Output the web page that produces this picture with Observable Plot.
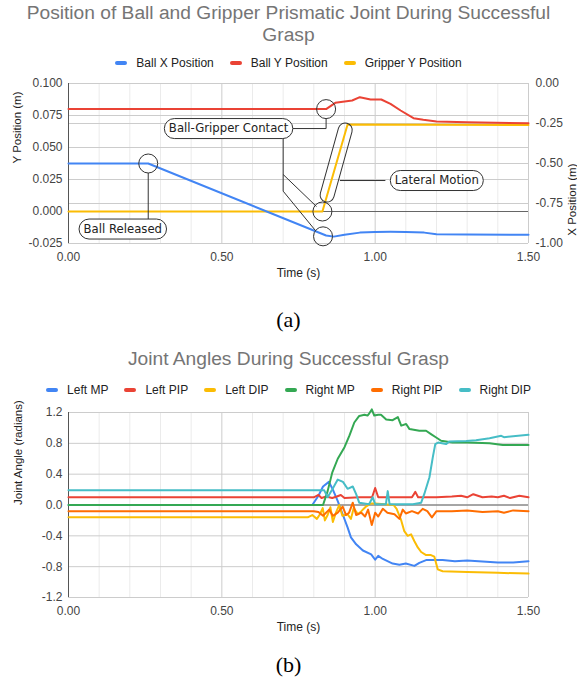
<!DOCTYPE html>
<html><head><meta charset="utf-8">
<script src="https://cdn.jsdelivr.net/npm/d3@7"></script>
<script src="https://cdn.jsdelivr.net/npm/@observablehq/plot@0.6"></script>
<style>
html,body{margin:0;padding:0;background:#fff;}
#root{position:relative;width:577px;height:685px;overflow:hidden;font-family:"Liberation Sans",Arial,sans-serif;}
.title{position:absolute;left:0;width:577px;text-align:center;color:#757575;font-size:19.2px;line-height:22px;}
.legend{position:absolute;left:0;width:577px;display:flex;justify-content:center;gap:16px;font-size:12px;line-height:16px;color:#222;}
.legend span.item{display:flex;align-items:center;}
.legend span.sw{display:inline-block;width:12px;height:4px;border-radius:2px;margin-right:9px;}
.caption{position:absolute;left:0;width:577px;text-align:center;font-family:"Liberation Serif","Times New Roman",serif;font-size:22px;line-height:26px;color:#000;}
.chart{position:absolute;left:0;}
</style></head>
<body><div id="root"></div>
<script>
// ---------- Chart (a) data ----------
const titleA = "Position of Ball and Gripper Prismatic Joint During Successful Grasp";
const seriesA = ["Ball X Position", "Ball Y Position", "Gripper Y Position"];
const colorsA = ["#4285F4", "#EA4335", "#FBBC04"];

// Ball X position (right axis, m)
const ballXTime = [0, 0.26, 0.84, 0.865, 0.9, 0.95, 1.0, 1.05, 1.1, 1.16, 1.2, 1.3, 1.5];
const ballXPos  = [-0.5, -0.5, -0.95, -0.957, -0.945, -0.932, -0.928, -0.927, -0.928, -0.932, -0.942, -0.944, -0.946];
// Ball Y position (left axis, m)
const ballYTime = [0, 0.84, 0.87, 0.925, 0.95, 0.985, 1.02, 1.05, 1.083, 1.125, 1.157, 1.2, 1.3, 1.5];
const ballYPos  = [0.080, 0.080, 0.0849, 0.0867, 0.0893, 0.0875, 0.0875, 0.0841, 0.0789, 0.0729, 0.0716, 0.0703, 0.0697, 0.069];
// Gripper Y position (left axis, m)
const gripTime = [0, 0.828, 0.91, 1.5];
const gripPos  = [0, 0, 0.068, 0.0675];

const leftTicksA  = [-0.025, 0, 0.025, 0.05, 0.075, 0.1];
const rightTicksA = [-1, -0.75, -0.5, -0.25, 0];
const timeTicks   = [0, 0.5, 1.0, 1.5];
const minorTime   = [0.1, 0.2, 0.3, 0.4, 0.6, 0.7, 0.8, 0.9, 1.1, 1.2, 1.3, 1.4];

// annotations (chart a, in time / Y-position units)
const circleT = [0.26, 0.84, 0.828, 0.83];
const circleV = [0.0375, 0.080, 0, -0.0194];
const labelText = ["Ball Released", "Ball-Gripper Contact", "Lateral Motion"];
const labelT = [0.177, 0.522, 1.201];
const labelV = [-0.0137, 0.0648, 0.0242];
const connT1 = [0.26, 0.7305, 0.84, 0.70, 0.70, 0.70, 1.0333];
const connV1 = [0.0301, 0.0648, 0.0648, 0.0570, 0.0289, 0.0159, 0.0242];
const connT2 = [0.26, 0.84, 0.84, 0.70, 0.8086, 0.805, 0.885];
const connV2 = [-0.0059, 0.0648, 0.0728, 0.0159, 0.0039, -0.0148, 0.0242];
const capsuleT = [0.845, 0.904];
const capsuleV = [0.0125, 0.0633];

// ---------- Chart (b) data ----------
const titleB = "Joint Angles During Successful Grasp";
const seriesB = ["Left MP", "Left PIP", "Left DIP", "Right MP", "Right PIP", "Right DIP"];
const colorsB = ["#4285F4", "#EA4335", "#FBBC04", "#34A853", "#FF6D01", "#46BDC6"];
const leftMPTime = [0, 0.795, 0.815, 0.83, 0.849, 0.862, 0.878, 0.894, 0.91, 0.921, 0.938, 0.96, 0.987, 1.0, 1.01, 1.025, 1.057, 1.079, 1.1, 1.128, 1.144, 1.166, 1.22, 1.26, 1.3, 1.4, 1.45, 1.5];
const leftMP     = [0, 0, 0.12, 0.24, 0.30, 0.2, 0.05, -0.12, -0.29, -0.42, -0.51, -0.59, -0.64, -0.71, -0.66, -0.70, -0.76, -0.775, -0.76, -0.79, -0.75, -0.715, -0.715, -0.73, -0.72, -0.745, -0.745, -0.73];
const leftPIPTime = [0, 0.8, 0.815, 0.825, 0.84, 0.86, 0.875, 0.888, 0.9, 0.95, 0.99, 1.0, 1.01, 1.05, 1.12, 1.131, 1.14, 1.2, 1.25, 1.28, 1.3, 1.32, 1.35, 1.38, 1.4, 1.42, 1.44, 1.47, 1.5];
const leftPIP     = [0.1, 0.1, 0.13, 0.09, 0.11, 0.09, 0.11, 0.13, 0.09, 0.1, 0.1, 0.22, 0.1, 0.1, 0.1, 0.17, 0.1, 0.1, 0.11, 0.12, 0.1, 0.14, 0.1, 0.11, 0.1, 0.12, 0.09, 0.12, 0.1];
const leftDIPTime = [0, 0.78, 0.795, 0.81, 0.82, 0.829, 0.836, 0.845, 0.854, 0.862, 0.872, 0.883, 0.893, 0.91, 0.921, 0.93, 0.944, 0.955, 0.97, 0.986, 1.0, 1.06, 1.07, 1.085, 1.095, 1.106, 1.117, 1.128, 1.139, 1.15, 1.166, 1.182, 1.193, 1.204, 1.22, 1.3, 1.4, 1.5];
const leftDIP     = [-0.16, -0.16, -0.13, -0.18, -0.12, -0.04, -0.2, -0.13, -0.03, -0.22, -0.1, 0.0, -0.14, -0.12, -0.18, -0.04, -0.12, -0.08, -0.02, 0.02, 0.02, 0.0, -0.05, -0.2, -0.34, -0.40, -0.38, -0.47, -0.55, -0.61, -0.65, -0.65, -0.67, -0.835, -0.86, -0.87, -0.88, -0.89];
const rightMPTime = [0, 0.83, 0.845, 0.86, 0.878, 0.9, 0.916, 0.932, 0.948, 0.965, 0.975, 0.981, 0.989, 0.997, 1.01, 1.019, 1.036, 1.057, 1.074, 1.085, 1.101, 1.112, 1.144, 1.166, 1.182, 1.199, 1.215, 1.253, 1.3, 1.373, 1.416, 1.5];
const rightMP     = [0, 0, 0.18, 0.42, 0.6, 0.75, 0.9, 1.07, 1.155, 1.17, 1.16, 1.19, 1.24, 1.16, 1.17, 1.17, 1.11, 1.10, 1.14, 1.03, 1.05, 0.985, 0.963, 0.963, 0.92, 0.876, 0.833, 0.81, 0.81, 0.80, 0.777, 0.777];
const rightPIPTime = [0, 0.8, 0.815, 0.83, 0.85, 0.862, 0.878, 0.894, 0.905, 0.915, 0.927, 0.938, 0.955, 0.967, 0.977, 0.989, 1.0, 1.01, 1.025, 1.04, 1.063, 1.079, 1.09, 1.1, 1.12, 1.14, 1.155, 1.17, 1.185, 1.2, 1.25, 1.3, 1.35, 1.4, 1.42, 1.45, 1.5];
const rightPIP     = [-0.08, -0.08, -0.09, -0.14, -0.06, -0.14, -0.1, -0.02, -0.13, -0.1, 0.03, -0.13, -0.1, -0.15, -0.06, -0.26, -0.1, -0.15, -0.05, -0.1, -0.12, -0.18, -0.06, -0.11, -0.08, -0.11, -0.05, -0.08, -0.16, -0.08, -0.08, -0.07, -0.09, -0.08, -0.1, -0.07, -0.08];
const rightDIPTime = [0, 0.834, 0.845, 0.86, 0.878, 0.895, 0.91, 0.927, 0.938, 0.948, 0.98, 0.992, 1.0, 1.035, 1.041, 1.047, 1.123, 1.15, 1.16, 1.177, 1.188, 1.196, 1.205, 1.231, 1.242, 1.297, 1.329, 1.373, 1.411, 1.42, 1.5];
const rightDIP     = [0.19, 0.19, 0.1, 0.2, 0.33, 0.3, 0.21, 0.24, 0.14, 0.03, 0.01, 0.1, 0.01, 0.01, 0.18, 0.01, 0.01, 0.03, 0.14, 0.36, 0.62, 0.79, 0.81, 0.79, 0.825, 0.83, 0.84, 0.867, 0.898, 0.88, 0.91];
const ticksB = [-1.2, -0.8, -0.4, 0, 0.4, 0.8, 1.2];

// ---------- helpers ----------
const zipRows = (ts, vs, s) => ts.map((t, i) => ({t, v: vs[i], s}));
const toLeft = r => 0.1 + 0.125 * r;           // right-axis (X position) -> left-axis units
const fromLeft = v => { const r = Math.round((v - 0.1) / 0.125 * 100) / 100; return (r === 0 ? 0 : r).toFixed(2); };
const root = document.getElementById("root");
function addDiv(cls, top, html) { const d = document.createElement("div"); d.className = cls; d.style.top = top + "px"; d.innerHTML = html; root.appendChild(d); return d; }
function addLegend(top, names, colors) {
  const d = addDiv("legend", top, "");
  names.forEach((n, i) => { const it = document.createElement("span"); it.className = "item";
    it.innerHTML = `<span class="sw" style="background:${colors[i]}"></span>${n}`; d.appendChild(it); });
}
const LABEL_FONT = 11.7, PAD = 4.5;
function pillLabels(index, scales, values, dimensions, context, next) {
  const g = next(index, scales, values, dimensions, context);
  const cv = document.createElement("canvas").getContext("2d");
  cv.font = `${LABEL_FONT}px "DejaVu Sans"`;
  const texts = Array.from(g.querySelectorAll("text"));
  texts.forEach((el, k) => {
    const i = index[k];
    const X = values.x[i], Y = values.y[i];
    const w = cv.measureText(el.textContent).width + 2 * PAD;
    const r = d3.create("svg:rect").attr("x", X - w / 2).attr("y", Y - 10).attr("width", w).attr("height", 20)
      .attr("rx", 10).attr("fill", "white").attr("stroke", "#333").attr("stroke-width", 1).node();
    el.parentNode.insertBefore(r, el);
  });
  return g;
}
function capsuleRender(index, scales, values) {
  const g = d3.create("svg:g"); const R = 7;
  for (const i of index) {
    const x1 = values.x1[i], y1 = values.y1[i], x2 = values.x2[i], y2 = values.y2[i];
    const L = Math.hypot(x2 - x1, y2 - y1), a = Math.atan2(y2 - y1, x2 - x1) * 180 / Math.PI;
    g.append("rect").attr("x", -R).attr("y", -R).attr("width", L + 2 * R).attr("height", 2 * R).attr("rx", R)
      .attr("transform", `translate(${x1},${y1}) rotate(${a})`).attr("fill", "none").attr("stroke", "#333").attr("stroke-width", 1);
  }
  return g.node();
}

// ---------- Chart (a) ----------
addDiv("title", 1.5, "Position of Ball and Gripper Prismatic Joint During Successful<br>Grasp");
addLegend(55, seriesA, colorsA);

const ballX = zipRows(ballXTime, ballXPos, seriesA[0]);
const ballY = zipRows(ballYTime, ballYPos, seriesA[1]);
const grip = zipRows(gripTime, gripPos, seriesA[2]);
const circles = circleT.map((t, i) => ({t, v: circleV[i]}));
const labels = labelText.map((s, i) => ({s, t: labelT[i], v: labelV[i]}));
const conns = connT1.map((t, i) => ({t1: t, v1: connV1[i], t2: connT2[i], v2: connV2[i]}));
const caps = [{t1: capsuleT[0], v1: capsuleV[0], t2: capsuleT[1], v2: capsuleV[1]}];

const chartA = Plot.plot({
  width: 577, height: 220, marginTop: 13, marginBottom: 47, marginLeft: 68, marginRight: 49,
  style: {fontFamily: '"Liberation Sans", Arial, sans-serif', fontSize: "12px", color: "#444", background: "transparent", overflow: "visible"},
  x: {domain: [0, 1.5]},
  y: {domain: [-0.025, 0.1]},
  marks: [
    Plot.ruleX(minorTime, {stroke: "#ebebeb", strokeOpacity: 1}),
    Plot.ruleX(timeTicks, {stroke: "#cccccc", strokeOpacity: 1}),
    Plot.ruleY(leftTicksA, {stroke: "#cccccc", strokeOpacity: 1}),
    Plot.ruleY(rightTicksA.map(toLeft), {stroke: "#cccccc", strokeOpacity: 1}),
    Plot.ruleY([0], {stroke: "#666", strokeOpacity: 1}),
    Plot.ruleX([0], {stroke: "#555", strokeOpacity: 1}),
    Plot.axisX({ticks: timeTicks, tickFormat: d => d.toFixed(2), tickSize: 0, tickPadding: 9, label: null}),
    Plot.axisY({ticks: leftTicksA, tickFormat: d => d.toFixed(3), tickSize: 0, tickPadding: 6, label: null}),
    Plot.axisY({anchor: "right", ticks: rightTicksA.map(toLeft), tickFormat: fromLeft, tickSize: 0, tickPadding: 7, label: null}),
    Plot.text(["Time (s)"], {frameAnchor: "bottom", dy: 33, fill: "#222", fontSize: 12}),
    Plot.text(["Y Position (m)"], {frameAnchor: "left", dx: -51, rotate: -90, fill: "#222", fontSize: 11.5}),
    Plot.text(["X Position (m)"], {frameAnchor: "right", dx: 44, rotate: -90, fill: "#222", fontSize: 11.5}),
    Plot.line(grip, {x: "t", y: "v", stroke: colorsA[2], strokeWidth: 2}),
    Plot.line(ballY, {x: "t", y: "v", stroke: colorsA[1], strokeWidth: 2}),
    Plot.line(ballX, {x: "t", y: d => toLeft(d.v), stroke: colorsA[0], strokeWidth: 2}),
    Plot.link(conns, {x1: "t1", y1: "v1", x2: "t2", y2: "v2", stroke: "#333", strokeWidth: 1}),
    Plot.link(caps, {x1: "t1", y1: "v1", x2: "t2", y2: "v2", render: capsuleRender}),
    Plot.dot(circles, {x: "t", y: "v", r: 9.5, stroke: "#333", fill: "none", strokeWidth: 1}),
    Plot.text(labels, {x: "t", y: "v", text: "s", fontFamily: '"DejaVu Sans", sans-serif', fontSize: LABEL_FONT, fill: "#222", render: pillLabels})
  ]
});
chartA.classList.add("chart"); chartA.style.top = "70px"; chartA.style.position = "absolute";
root.appendChild(chartA);
addDiv("caption", 307, "(a)");

// ---------- Chart (b) ----------
addDiv("title", 348.4, titleB);
addLegend(382, seriesB, colorsB);
const joints = [
  ...zipRows(leftMPTime, leftMP, seriesB[0]),
  ...zipRows(leftPIPTime, leftPIP, seriesB[1]),
  ...zipRows(leftDIPTime, leftDIP, seriesB[2]),
  ...zipRows(rightMPTime, rightMP, seriesB[3]),
  ...zipRows(rightPIPTime, rightPIP, seriesB[4]),
  ...zipRows(rightDIPTime, rightDIP, seriesB[5])
];
const chartB = Plot.plot({
  width: 577, height: 250, marginTop: 14, marginBottom: 51, marginLeft: 68, marginRight: 49,
  style: {fontFamily: '"Liberation Sans", Arial, sans-serif', fontSize: "12px", color: "#444", background: "transparent", overflow: "visible"},
  x: {domain: [0, 1.5]},
  y: {domain: [-1.2, 1.2]},
  color: {domain: seriesB, range: colorsB},
  marks: [
    Plot.ruleX(minorTime, {stroke: "#ebebeb", strokeOpacity: 1}),
    Plot.ruleX(timeTicks, {stroke: "#cccccc", strokeOpacity: 1}),
    Plot.ruleY(ticksB, {stroke: "#cccccc", strokeOpacity: 1}),
    Plot.ruleY([0], {stroke: "#666", strokeOpacity: 1}),
    Plot.ruleX([0], {stroke: "#555", strokeOpacity: 1}),
    Plot.axisX({ticks: timeTicks, tickFormat: d => d.toFixed(2), tickSize: 0, tickPadding: 9, label: null}),
    Plot.axisY({ticks: ticksB, tickFormat: d => d.toFixed(1), tickSize: 0, tickPadding: 6, label: null}),
    Plot.text(["Time (s)"], {frameAnchor: "bottom", dy: 33, fill: "#222", fontSize: 12}),
    Plot.text(["Joint Angle (radians)"], {frameAnchor: "left", dx: -50, rotate: -90, fill: "#222", fontSize: 11.5}),
    Plot.line(joints, {x: "t", y: "v", z: "s", stroke: "s", strokeWidth: 2})
  ]
});
chartB.classList.add("chart"); chartB.style.top = "398px"; chartB.style.position = "absolute";
root.appendChild(chartB);
addDiv("caption", 652, "(b)");
</script></body></html>
